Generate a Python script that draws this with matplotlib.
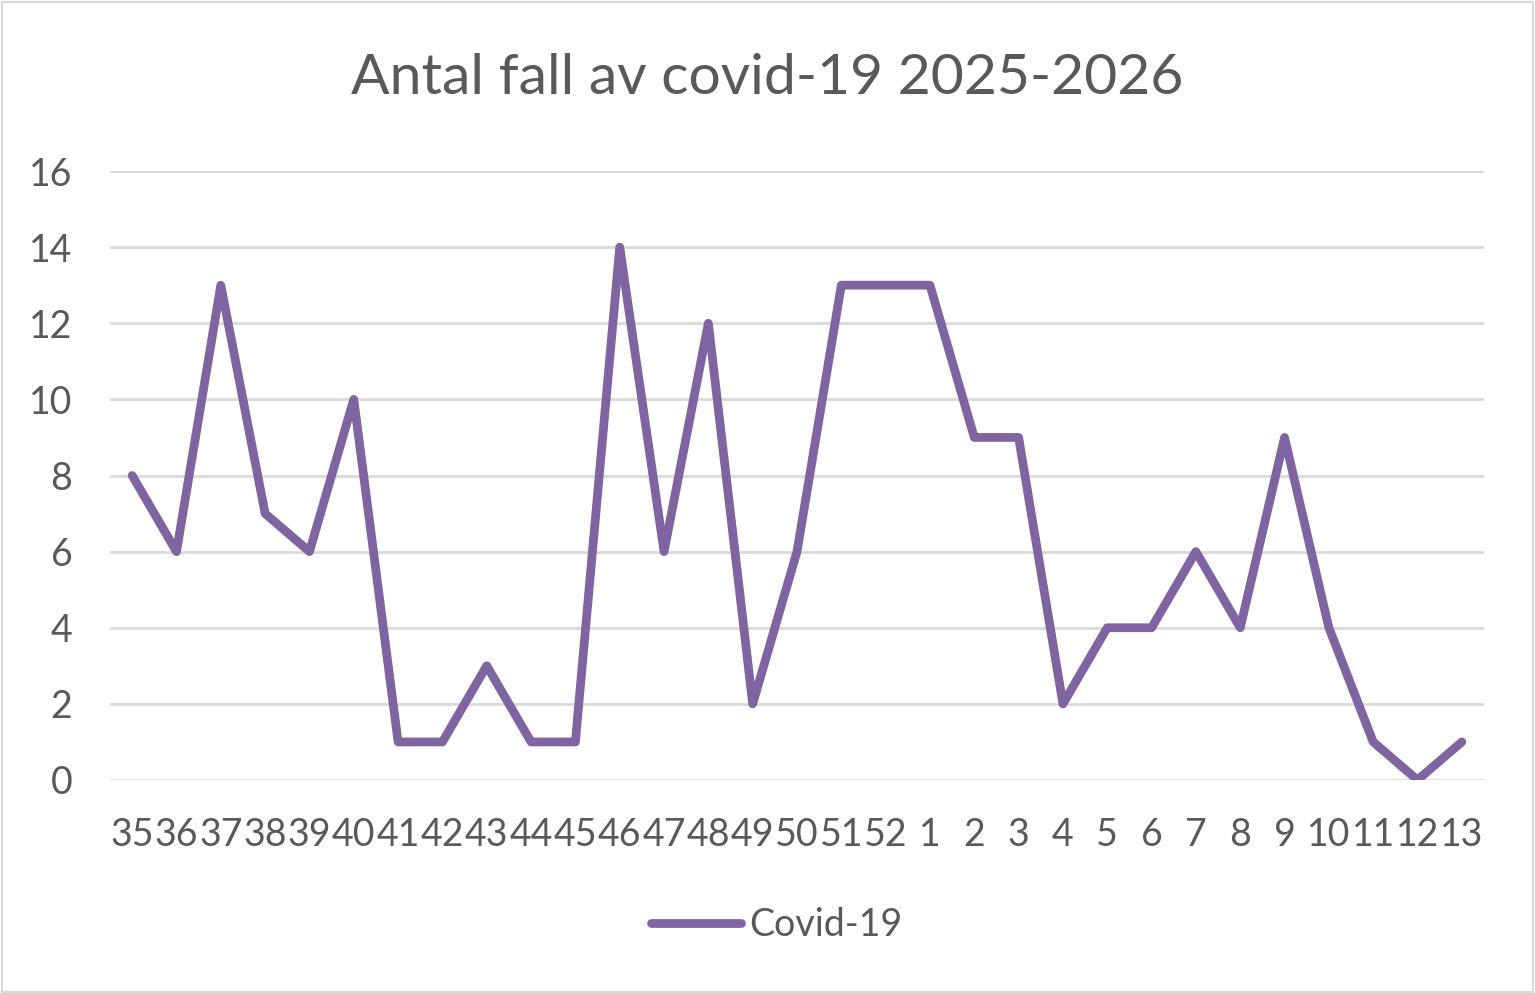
import matplotlib
matplotlib.use("Agg")
import matplotlib.pyplot as plt
from matplotlib.patches import Rectangle

weeks = ["35", "36", "37", "38", "39", "40", "41", "42", "43", "44", "45", "46",
         "47", "48", "49", "50", "51", "52", "1", "2", "3", "4", "5", "6", "7",
         "8", "9", "10", "11", "12", "13"]
cases = [8, 6, 13, 7, 6, 10, 1, 1, 3, 1, 1, 14, 6, 12, 2, 6, 13, 13, 13, 9, 9,
         2, 4, 4, 6, 4, 9, 4, 1, 0, 1]
y_ticks = [0, 2, 4, 6, 8, 10, 12, 14, 16]

text_color = "#595959"
grid_color = "#D9D9D9"
line_color = "#8064A2"
plt.rcParams["font.family"] = ["Lato", "DejaVu Sans"]

fig = plt.figure(figsize=(15.35, 9.93), dpi=100)
fig.patches.append(Rectangle((0.001, 0.001), 0.998, 0.997, transform=fig.transFigure,
                             fill=False, edgecolor=grid_color, linewidth=1.5))
ax = fig.add_axes([110 / 1535, 1 - 780 / 993, (1484 - 110) / 1535, (780 - 171) / 993])

x = list(range(len(weeks)))
ax.plot(x, cases, color=line_color, linewidth=6.3, solid_joinstyle="round",
        solid_capstyle="round", label="Covid-19", zorder=3)

ax.set_xlim(-0.5, len(weeks) - 0.5)
ax.set_ylim(0, 16)
ax.set_yticks(y_ticks)
ax.set_xticks(x)
ax.set_xticklabels(weeks)
ax.grid(axis="y", color=grid_color, linewidth=2.0)
ax.set_axisbelow(True)
for s in ax.spines.values():
    s.set_visible(False)
ax.tick_params(length=0, labelsize=27, colors=text_color)
ax.tick_params(axis="y", pad=27)
ax.tick_params(axis="x", pad=27)

fig.text(0.5, 1 - 78 / 993, "Antal fall av covid-19 2025-2026", ha="center",
         va="center", fontsize=41, color=text_color)
fig.legend(loc="center", bbox_to_anchor=(0.506, 1 - 925 / 993), frameon=False,
           fontsize=27, labelcolor=text_color, handlelength=2.4, handletextpad=0.2)

fig.savefig("out.png", dpi=100)
